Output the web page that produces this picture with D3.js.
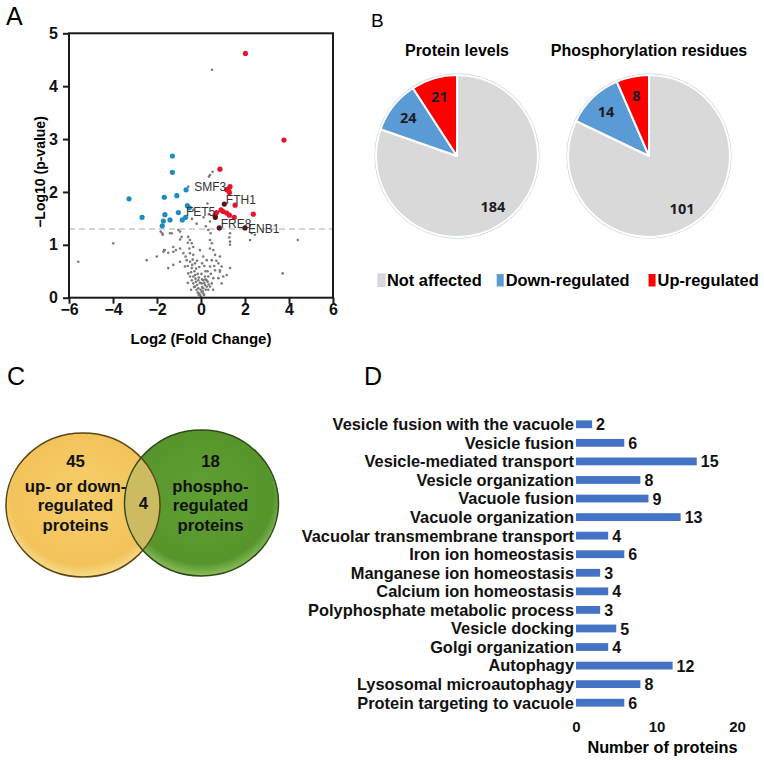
<!DOCTYPE html>
<html>
<head>
<meta charset="utf-8">
<script src="https://cdn.jsdelivr.net/npm/d3@7"></script>
<style>
  body { margin: 0; background: #fff; }
  svg { font-family: "Liberation Sans", Arial, sans-serif; }
</style>
</head>
<body>
<script>
// ---- A : volcano plot data (log2 fold change, -log10 p) ----
const grayPoints = [
  [0.5,4.31],[0.41,2.32],[0.53,2.38],[-0.58,2.1],[0.29,1.78],[-0.35,1.66],[0.36,1.58],[-0.41,1.49],
  [0.41,1.44],[0.36,2.29],[0.12,1.52],[-0.2,1.4],[0.22,1.35],
  [-1.83,1.25],[-1.74,1.19],[-1.33,1.22],[-0.95,1.25],[-0.88,1.15],[-0.58,1.15],[-0.5,1.09],[-0.6,1.04],
  [-0.42,1.03],[-0.35,0.96],[-0.53,0.93],[0.33,1.28],[0.44,1.22],[0.41,1.09],[0.49,1.03],[0.41,0.93],
  [0.56,0.9],[-1.64,0.9],[-1.49,0.85],[-1.26,0.87],[-1.14,0.9],[-0.95,0.93],[-0.8,0.84],[-0.5,0.84],
  [-0.35,0.81],[-0.05,0.9],[-2.47,0.71],[-1.49,0.56],[-1.26,0.62],[-0.95,0.68],[-0.65,0.71],[-0.5,0.68],
  [-0.27,0.65],[-0.73,0.59],[-0.42,0.56],[0.1,0.78],[0.26,0.71],[0.49,0.71],[0.64,0.81],[0.79,0.65],
  [0.94,0.59],[0.41,0.59],[0.64,0.52],[0.86,0.49],[1.17,0.43],[1.32,0.56],[1.01,0.4],[0.79,0.37],
  [0.56,0.37],[0.33,0.4],[0.26,0.33],[0.18,0.24],[0.1,0.18],[0.03,0.11],[-0.05,0.05],[-0.08,0.08],
  [-0.2,0.15],[-0.27,0.21],[-0.35,0.27],[-0.42,0.33],[-0.5,0.4],[-0.35,0.4],[-0.27,0.43],[-0.58,0.46],
  [-0.12,0.33],[-0.17,0.24],[-0.23,0.3],[-0.12,0.18],[0.03,0.27],[0.1,0.33],[0.18,0.4],[0.26,0.21],
  [0.33,0.15],[0.41,0.21],[0.49,0.27],[0.1,0.08],[0,0.02],[0.94,0.27],[-2.01,0.78],[-1.71,0.87],
  [1.32,1.0],[1.32,1.06],[0.86,0.78],[0.86,0.52],[2.23,1.09],[2.45,1.19],[3.71,0.46],[4.4,1.09],
  [-3.99,1.03],[-5.58,0.68],[1.32,1.22],[1.29,1.14],[2.3,1.22],[-1.76,1.22],[-1.41,1.22],[-1.03,1.28],
  [-0.3,0.5],[-0.22,0.55],[-0.15,0.45],[-0.4,0.62],[-0.1,0.38],[-0.05,0.28],[-0.02,0.15],[0.05,0.2],
  [0.08,0.12],[0.15,0.28],[0.2,0.35],[0.22,0.15],[0.14,0.05],[-0.15,0.1],[-0.1,0.05],[0.05,0.35],
  [-0.25,0.36],[-0.32,0.2],[0.3,0.3],[0.35,0.25],[0.3,0.5],[0.45,0.45],[-0.45,0.48],[-0.38,0.72],
  [-0.6,0.6],[0.6,0.6],[0.7,0.7],[-0.7,0.78],[0.15,0.6],[-0.18,0.7],[0.05,0.65],[-0.08,0.58],
  [0.2,0.5],[-0.6,0.28],[0.55,0.15],[-0.45,0.15],[0.02,0.45],[-1.26,0.96],[-0.95,1.1],[-1.68,0.9]
];
const downPoints = [
  [-1.3,2.68],[-1.3,2.37],[-0.68,2.04],[-1.1,1.93],[-1.67,1.9],[-3.27,1.87],[-0.62,1.74],[-0.53,1.7],
  [-1.03,1.61],[-1.64,1.57],[-2.68,1.52],[-1.71,1.45],[-1.41,1.47],[-0.85,1.47],[-0.7,1.52],[-1.76,1.36]
];
const upPoints = [
  [2.02,4.62],[3.77,2.98],[0.86,2.43],[1.32,2.1],[1.17,2.04],[1.29,1.99],[1.55,1.75],[2.38,1.58],
  [0.91,1.66],[1.01,1.63],[1.17,1.6],[1.29,1.56],[0.71,1.61],[0.64,1.56],[1.51,1.52],[1.24,2.06]
];
// labelled genes: name, log2FC, -log10 p, group
const labelledGenes = [
  ["SMF3",1.24,2.06,"up"],["FTH1",1.06,1.77,"mark"],["FET5",0.65,1.52,"mark"],
  ["FRE8",0.83,1.32,"mark"],["ENB1",2.0,1.32,"mark"]
];
const pThreshold = 1.3;
const volcanoXTicks = [-6,-4,-2,0,2,4,6];
const volcanoYTicks = [0,1,2,3,4,5];

// ---- B : pies ----
const pieCategories = ["Not affected","Down-regulated","Up-regulated"];
const proteinLevels = [184,24,21];
const phosphoResidues = [101,14,8];
const pieTitles = ["Protein levels","Phosphorylation residues"];

// ---- C : venn ----
const vennLeft = ["45","up- or down-","regulated","proteins"];
const vennRight = ["18","phospho-","regulated","proteins"];
const vennOverlap = "4";

// ---- D : GO terms ----
const goTerms = [
  "Vesicle fusion with the vacuole","Vesicle fusion","Vesicle-mediated transport","Vesicle organization",
  "Vacuole fusion","Vacuole organization","Vacuolar transmembrane transport","Iron ion homeostasis",
  "Manganese ion homeostasis","Calcium ion homeostasis","Polyphosphate metabolic process","Vesicle docking",
  "Golgi organization","Autophagy","Lysosomal microautophagy","Protein targeting to vacuole"
];
const goCounts = [2,6,15,8,9,13,4,6,3,4,3,5,4,12,8,6];
const goTicks = [0,10,20];

const svg = d3.select("body").append("svg")
  .attr("width", 764).attr("height", 760);
svg.append("rect").attr("width", 764).attr("height", 760).attr("fill", "#fff");

// panel letters
svg.append("text").attr("x", 6).attr("y", 25).attr("font-size", 25).text("A");
svg.append("text").attr("x", 371).attr("y", 27).attr("font-size", 19).text("B");
svg.append("text").attr("x", 7).attr("y", 385).attr("font-size", 25).text("C");
svg.append("text").attr("x", 364).attr("y", 385).attr("font-size", 25).text("D");

// ================= A =================
const x = d3.scaleLinear().domain([-6, 6]).range([69, 333]);
const y = d3.scaleLinear().domain([0, 5]).range([297.7, 33.3]);
const gA = svg.append("g");

gA.append("line")
  .attr("x1", x(-6)).attr("x2", x(6))
  .attr("y1", y(pThreshold)).attr("y2", y(pThreshold))
  .attr("stroke", "#c8c8c8").attr("stroke-width", 1.6).attr("stroke-dasharray", "6,4");

gA.selectAll(".gray").data(grayPoints).enter().append("circle")
  .attr("cx", d => x(d[0])).attr("cy", d => y(d[1])).attr("r", 1.3).attr("fill", "#7a7a7a");
gA.selectAll(".down").data(downPoints).enter().append("circle")
  .attr("cx", d => x(d[0])).attr("cy", d => y(d[1])).attr("r", 2.6).attr("fill", "#1b8bc4");
gA.selectAll(".up").data(upPoints).enter().append("circle")
  .attr("cx", d => x(d[0])).attr("cy", d => y(d[1])).attr("r", 2.6).attr("fill", "#e8142c");
gA.selectAll(".mark").data(labelledGenes.filter(d => d[3] == "mark")).enter().append("circle")
  .attr("cx", d => x(d[1])).attr("cy", d => y(d[2])).attr("r", 2.6).attr("fill", "#5a1014");

// label placement around each gene point
const labelPlace = { SMF3: [-2, 2, "end"], FTH1: [1.5, 0, "start"], FET5: [0, -1, "end"], FRE8: [1.5, 0, "start"], ENB1: [3, 5, "start"] };
gA.selectAll(".glab").data(labelledGenes).enter().append("text")
  .attr("x", d => x(d[1]) + labelPlace[d[0]][0])
  .attr("y", d => y(d[2]) + labelPlace[d[0]][1])
  .attr("text-anchor", d => labelPlace[d[0]][2])
  .attr("font-size", 12).attr("fill", "#333")
  .text(d => d[0]);

// frame
gA.append("rect")
  .attr("x", x(-6)).attr("y", y(5))
  .attr("width", x(6) - x(-6)).attr("height", y(0) - y(5))
  .attr("fill", "none").attr("stroke", "#1a1a1a").attr("stroke-width", 2);

const xAxis = gA.append("g").attr("transform", `translate(0,${y(0)})`)
  .call(d3.axisBottom(x).tickValues(volcanoXTicks).tickFormat(d3.format("d")).tickSize(6).tickPadding(0));
const yAxis = gA.append("g").attr("transform", `translate(${x(-6)},0)`)
  .call(d3.axisLeft(y).tickValues(volcanoYTicks).tickFormat(d3.format("d")).tickSize(6).tickPadding(5));
[xAxis, yAxis].forEach(a => {
  a.select(".domain").remove();
  a.selectAll("line").attr("stroke", "#1a1a1a").attr("stroke-width", 2);
  a.selectAll("text").attr("font-size", 16).attr("font-weight", "bold").attr("fill", "#111")
    .attr("font-family", "Liberation Sans, Arial, sans-serif");
});

gA.append("text").attr("x", 201).attr("y", 344).attr("text-anchor", "middle")
  .attr("font-size", 15).attr("font-weight", "bold").text("Log2 (Fold Change)");
gA.append("text").attr("transform", "translate(45,172) rotate(-90)").attr("text-anchor", "middle")
  .attr("font-size", 14).attr("font-weight", "bold").text("\u2212Log10 (p-value)");

// ================= B =================
const pieColor = d3.scaleOrdinal().domain(pieCategories).range(["#d9d9d9", "#5b9bd5", "#ff0000"]);
const pie = d3.pie().sort(null).value(d => d.v);
const arc = d3.arc().innerRadius(0).outerRadius(81);
const labelArc = d3.arc().innerRadius(62).outerRadius(62);
const pieCenters = [457, 649];

[proteinLevels, phosphoResidues].forEach((vals, k) => {
  const g = svg.append("g").attr("transform", `translate(${pieCenters[k]},156)`);
  const arcs = pie(vals.map((v, i) => ({ c: pieCategories[i], v: v })));
  g.append("circle").attr("r", 81.5).attr("fill", "none").attr("stroke", "#b8c8e4").attr("stroke-width", 2);
  g.selectAll("path").data(arcs).enter().append("path")
    .attr("d", arc).attr("fill", d => pieColor(d.data.c))
    .attr("stroke", "#fff").attr("stroke-width", 2).attr("stroke-linejoin", "round");
  g.selectAll(".lab").data(arcs).enter().append("text")
    .attr("transform", d => `translate(${labelArc.centroid(d)})`)
    .attr("text-anchor", "middle").attr("dy", "0.36em")
    .attr("font-size", 14.5).attr("font-weight", "bold").attr("fill", "#1c1c24")
    .attr("font-family", "Open Sans, sans-serif")
    .text(d => d.data.v);
  svg.append("text").attr("x", pieCenters[k]).attr("y", 55.5).attr("text-anchor", "middle")
    .attr("font-size", 16).attr("font-weight", "bold").text(pieTitles[k]);
});

// legend
let lx = 378;
const gap = [15, 19];
pieCategories.forEach((c, i) => {
  svg.append("rect").attr("x", lx).attr("y", 274).attr("width", 7).attr("height", 12.5).attr("fill", pieColor(c))
    .attr("stroke", i == 0 ? "#c8d2e4" : "none");
  const t = svg.append("text").attr("x", lx + 9).attr("y", 285.5)
    .attr("font-size", 16.4).attr("font-weight", "bold").text(c);
  lx += 9 + t.node().getComputedTextLength() + (gap[i] || 0);
});

// ================= C =================
const defs = svg.append("defs");
const gl = defs.append("radialGradient").attr("id", "gLeft").attr("cx", "50%").attr("cy", "45%").attr("r", "55%");
gl.append("stop").attr("offset", "0%").attr("stop-color", "#f7cd6a");
gl.append("stop").attr("offset", "85%").attr("stop-color", "#f2c35a");
gl.append("stop").attr("offset", "100%").attr("stop-color", "#f8dc8c");
const gr = defs.append("radialGradient").attr("id", "gRight").attr("cx", "50%").attr("cy", "45%").attr("r", "55%");
gr.append("stop").attr("offset", "0%").attr("stop-color", "#5f9f32");
gr.append("stop").attr("offset", "85%").attr("stop-color", "#56952c");
gr.append("stop").attr("offset", "100%").attr("stop-color", "#8cc05e");
const ellL = { cx: 83, cy: 505, rx: 77, ry: 72 };
const ellR = { cx: 201.5, cy: 503, rx: 77, ry: 73 };
defs.append("clipPath").attr("id", "clipL").append("ellipse")
  .attr("cx", ellL.cx).attr("cy", ellL.cy).attr("rx", ellL.rx).attr("ry", ellL.ry);

const gC = svg.append("g");
gC.append("ellipse").attr("cx", ellL.cx).attr("cy", ellL.cy).attr("rx", ellL.rx).attr("ry", ellL.ry)
  .attr("fill", "url(#gLeft)");
gC.append("ellipse").attr("cx", ellR.cx).attr("cy", ellR.cy).attr("rx", ellR.rx).attr("ry", ellR.ry)
  .attr("fill", "url(#gRight)");
gC.append("ellipse").attr("cx", ellR.cx).attr("cy", ellR.cy).attr("rx", ellR.rx).attr("ry", ellR.ry)
  .attr("clip-path", "url(#clipL)").attr("fill", "#cdbb62");
[ellL, ellR].forEach((e, i) => {
  gC.append("ellipse").attr("cx", e.cx).attr("cy", e.cy).attr("rx", e.rx).attr("ry", e.ry)
    .attr("fill", "none").attr("stroke", i == 0 ? "#5a4612" : "#2f4a18").attr("stroke-width", 1.5);
});
const vennBase = [466.7, 491.5, 511, 530.5];
[[vennLeft, 75.5], [vennRight, 210.5]].forEach(([lines, cx]) => {
  lines.forEach((s, i) => {
    gC.append("text").attr("x", cx).attr("y", vennBase[i]).attr("text-anchor", "middle")
      .attr("font-size", 16.8).attr("font-weight", "bold").attr("fill", "#111").text(s);
  });
});
gC.append("text").attr("x", 143.3).attr("y", 508.5).attr("text-anchor", "middle")
  .attr("font-size", 16.8).attr("font-weight", "bold").attr("fill", "#111").text(vennOverlap);

// ================= D =================
const xb = d3.scaleLinear().domain([0, 20]).range([576, 737]);
const yb = d3.scaleBand().domain(goTerms).range([415, 712]).paddingInner(0.58).paddingOuter(0.29);
const gD = svg.append("g");

gD.selectAll(".bar").data(goTerms).enter().append("rect")
  .attr("x", xb(0)).attr("y", d => yb(d))
  .attr("width", (d, i) => xb(goCounts[i]) - xb(0)).attr("height", yb.bandwidth())
  .attr("fill", "#4472c4");
gD.selectAll(".term").data(goTerms).enter().append("text")
  .attr("x", xb(0) - 2).attr("y", d => yb(d) + yb.bandwidth() / 2).attr("dy", "0.36em")
  .attr("text-anchor", "end").attr("font-size", 16.4).attr("font-weight", "bold").attr("fill", "#111")
  .text(d => d);
gD.selectAll(".val").data(goTerms).enter().append("text")
  .attr("x", (d, i) => xb(goCounts[i]) + 4).attr("y", d => yb(d) + yb.bandwidth() / 2).attr("dy", "0.38em")
  .attr("font-size", 16).attr("font-weight", "bold").attr("fill", "#111")
  .text((d, i) => goCounts[i]);

const xbAxis = gD.append("g").attr("transform", "translate(0,718)")
  .call(d3.axisBottom(xb).tickValues(goTicks).tickSize(0).tickPadding(3));
xbAxis.select(".domain").remove();
xbAxis.selectAll("text").attr("font-size", 15).attr("font-weight", "bold").attr("fill", "#111")
  .attr("font-family", "Liberation Sans, Arial, sans-serif");
gD.append("text").attr("x", 662.5).attr("y", 752.5).attr("text-anchor", "middle")
  .attr("font-size", 16.3).attr("font-weight", "bold").text("Number of proteins");
</script>
</body>
</html>
